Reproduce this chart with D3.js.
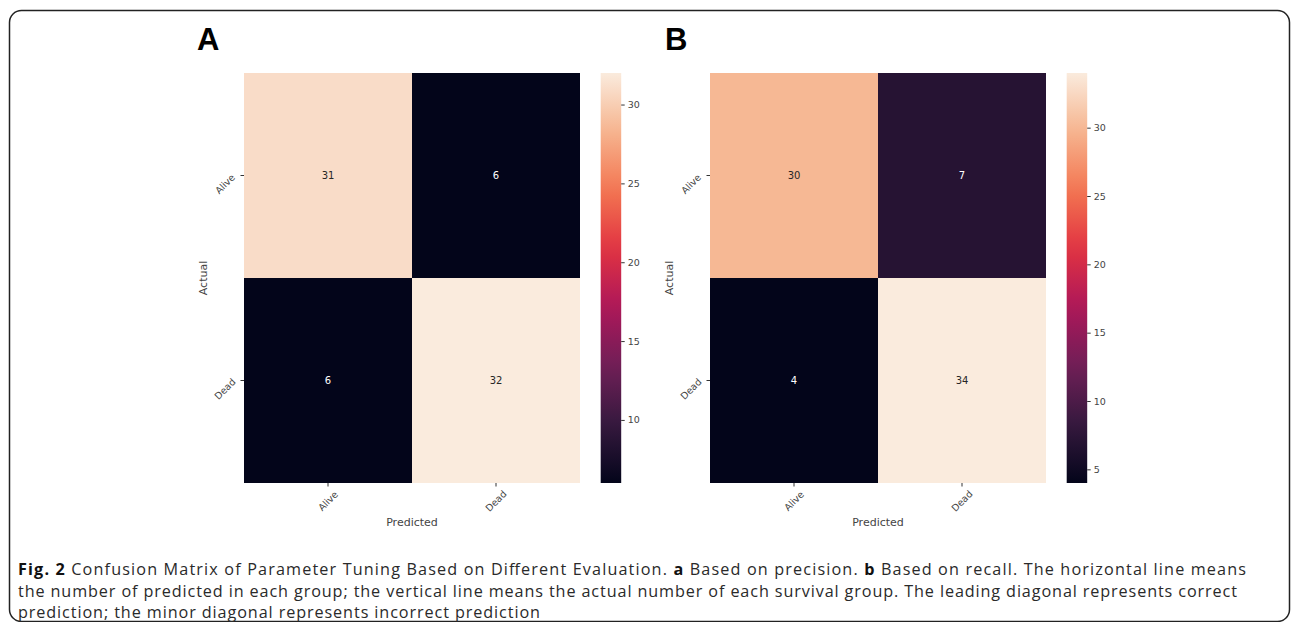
<!DOCTYPE html>
<html>
<head>
<meta charset="utf-8">
<script src="https://cdn.jsdelivr.net/npm/d3@7"></script>
<style>
  body { margin: 0; background: #fff; }
  svg { display: block; }
</style>
</head>
<body>
<svg id="plot" width="1292" height="622"></svg>
<script>
// data
const classes = ['Alive', 'Dead']
const matrixA = [[31, 6], [6, 32]]   // rows = actual, cols = predicted
const matrixB = [[30, 7], [4, 34]]
const ticksA = [10, 15, 20, 25, 30]
const ticksB = [5, 10, 15, 20, 25, 30]
const panelLabels = ['A', 'B']

// seaborn "rocket" colormap, sampled stops
const rocketStops = ['#03051a', '#35193e', '#701f57', '#ad1759', '#e13342', '#f37651', '#f6b48f', '#faebdd']
const rocket = d3.piecewise(d3.interpolateRgb, rocketStops)

let svg = d3.select('#plot')

// frame
svg.append('rect').attr('x', 9.5).attr('y', 10.5).attr('width', 1280).attr('height', 611)
  .attr('rx', 12).attr('fill', 'none').attr('stroke', '#222').attr('stroke-width', 1.5)

const topY = 73, hmW = 336, hmH = 410
const panels = [
  {label: panelLabels[0], data: matrixA, ticks: ticksA, x0: 244, titleX: 197},
  {label: panelLabels[1], data: matrixB, ticks: ticksB, x0: 710, titleX: 665}
]

const drawPanel = (p, idx) => {
  let g = svg.append('g')
  let x = d3.scaleBand().domain(classes).range([p.x0, p.x0 + hmW])
  let y = d3.scaleBand().domain(classes).range([topY, topY + hmH])
  let flat = p.data.flat()
  let color = d3.scaleSequential(rocket).domain([d3.min(flat), d3.max(flat)])

  let cells = []
  p.data.forEach((row, i) => row.forEach((v, j) => cells.push({actual: classes[i], pred: classes[j], v})))

  g.selectAll('rect.cell').data(cells).enter().append('rect').attr('class', 'cell')
    .attr('x', d => x(d.pred)).attr('y', d => y(d.actual))
    .attr('width', x.bandwidth()).attr('height', y.bandwidth())
    .attr('fill', d => color(d.v))

  g.selectAll('text.annot').data(cells).enter().append('text').attr('class', 'annot')
    .attr('x', d => x(d.pred) + x.bandwidth() / 2).attr('y', d => y(d.actual) + y.bandwidth() / 2)
    .attr('dy', '0.35em').attr('text-anchor', 'middle')
    .attr('font-family', 'DejaVu Sans').attr('font-size', 10)
    .attr('fill', d => d3.lab(color(d.v)).l > 55 ? '#262626' : '#ffffff')
    .text(d => d.v)

  // axes
  let xAxis = g.append('g').attr('transform', `translate(0,${topY + hmH})`)
    .call(d3.axisBottom(x).tickSize(3.5).tickSizeOuter(0))
  let yAxis = g.append('g').attr('transform', `translate(${p.x0},0)`)
    .call(d3.axisLeft(y).tickSize(3.5).tickSizeOuter(0))
  ;[xAxis, yAxis].forEach(a => {
    a.select('.domain').remove()
    a.selectAll('line').attr('stroke', '#333')
    a.selectAll('text').attr('font-family', 'DejaVu Sans').attr('font-size', 9.5).attr('fill', '#444')
      .attr('x', 0).attr('y', 0).attr('dy', '0.35em').attr('text-anchor', 'middle')
  })
  xAxis.selectAll('text').attr('transform', 'translate(0,18) rotate(-45)')
  yAxis.selectAll('text').attr('transform', 'translate(-19,8.5) rotate(-45)')

  g.append('text').attr('x', p.x0 + hmW / 2).attr('y', 526).attr('text-anchor', 'middle')
    .attr('font-family', 'DejaVu Sans').attr('font-size', 11).attr('fill', '#444').text('Predicted')
  g.append('text').attr('transform', `translate(${p.x0 - 41},${topY + hmH / 2}) rotate(-90)`)
    .attr('dy', '0.35em').attr('text-anchor', 'middle')
    .attr('font-family', 'DejaVu Sans').attr('font-size', 11).attr('fill', '#444').text('Actual')

  // colorbar
  let cbX = p.x0 + hmW + 20.7, cbW = 20.5
  let cy = d3.scaleLinear().domain(color.domain()).range([topY + hmH, topY])
  let gradId = 'grad' + idx
  let grad = svg.append('defs').append('linearGradient').attr('id', gradId)
    .attr('x1', 0).attr('y1', 1).attr('x2', 0).attr('y2', 0)
  d3.range(0, 1.0001, 0.05).forEach(t => {
    grad.append('stop').attr('offset', t).attr('stop-color', rocket(t))
  })
  g.append('rect').attr('x', cbX).attr('y', topY).attr('width', cbW).attr('height', hmH)
    .attr('fill', `url(#${gradId})`)
  let cAxis = g.append('g').attr('transform', `translate(${cbX + cbW},0)`)
    .call(d3.axisRight(cy).tickValues(p.ticks).tickSize(3.5).tickSizeOuter(0))
  cAxis.select('.domain').remove()
  cAxis.selectAll('line').attr('stroke', '#333')
  cAxis.selectAll('text').attr('font-family', 'DejaVu Sans').attr('font-size', 9.5).attr('fill', '#444')

  // panel letter
  g.append('text').attr('x', p.titleX).attr('y', 50)
    .attr('font-family', 'Liberation Sans, Arial, sans-serif').attr('font-weight', 'bold')
    .attr('font-size', 31).attr('fill', '#000').text(p.label)
}

panels.forEach(drawPanel)

// caption
const captionLines = [
  {y: 575, len: 1228, parts: [['Fig. 2', true], [' Confusion Matrix of Parameter Tuning Based on Different Evaluation. ', false], ['a', true], [' Based on precision. ', false], ['b', true], [' Based on recall. The horizontal line means', false]]},
  {y: 597, len: 1219, parts: [['the number of predicted in each group; the vertical line means the actual number of each survival group. The leading diagonal represents correct', false]]},
  {y: 618, len: 522, parts: [['prediction; the minor diagonal represents incorrect prediction', false]]}
]
captionLines.forEach(l => {
  let t = svg.append('text').attr('x', 18).attr('y', l.y)
    .attr('font-family', 'Open Sans, sans-serif').attr('font-size', 16.2).attr('fill', '#2a2a2a')
    .attr('textLength', l.len).attr('lengthAdjust', 'spacing')
  l.parts.forEach(pt => {
    t.append('tspan').attr('font-weight', pt[1] ? 'bold' : 'normal').attr('fill', pt[1] ? '#111' : '#2a2a2a')
      .style('white-space', 'pre').text(pt[0])
  })
})
</script>
</body>
</html>
